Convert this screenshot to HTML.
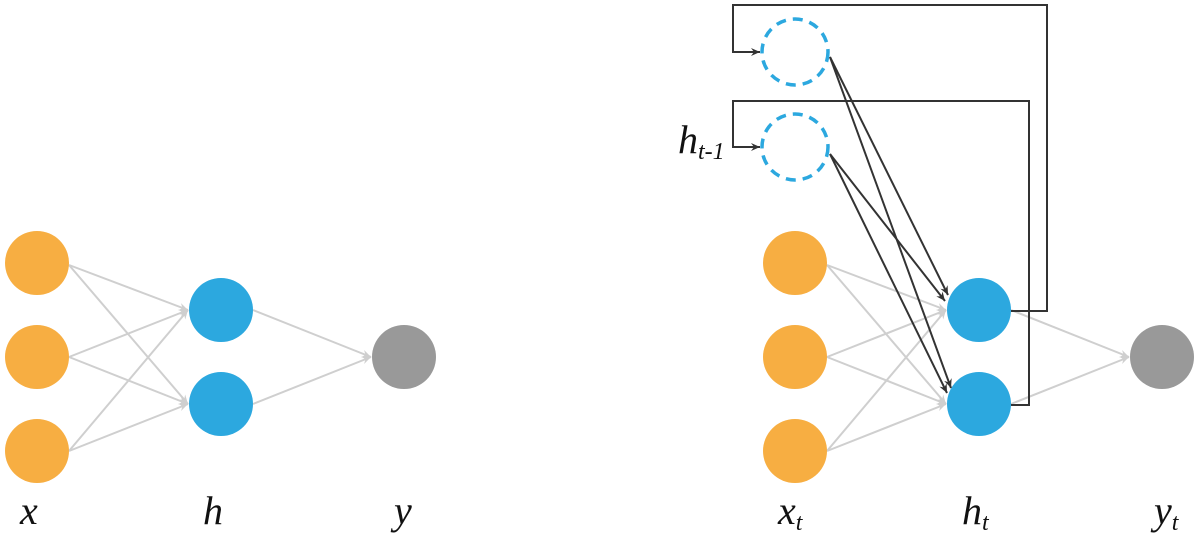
<!DOCTYPE html>
<html><head><style>body{margin:0;background:#fff}svg{display:block}.t{font-family:"Liberation Serif","DejaVu Serif",serif;font-style:italic;font-size:40px;fill:#111}</style></head><body>
<svg width="1200" height="550" viewBox="0 0 1200 550" xmlns="http://www.w3.org/2000/svg">
<defs>
<marker id="g" markerWidth="10" markerHeight="10" refX="9" refY="5" orient="auto" markerUnits="userSpaceOnUse"><path d="M0,1 L9,5 L0,9 L3,5 Z" fill="#cfcfcf"/></marker>
<marker id="d" markerWidth="10" markerHeight="10" refX="9" refY="5" orient="auto" markerUnits="userSpaceOnUse"><path d="M0,1 L9,5 L0,9 L3,5 Z" fill="#333"/></marker>
</defs>
<g stroke="#cfcfcf" stroke-width="2" fill="none" marker-end="url(#g)">
<line x1="69" y1="265" x2="188" y2="310"/><line x1="69" y1="265" x2="188" y2="404"/>
<line x1="69" y1="357" x2="188" y2="310"/><line x1="69" y1="357" x2="188" y2="404"/>
<line x1="69" y1="451" x2="188" y2="310"/><line x1="69" y1="451" x2="188" y2="404"/>
<line x1="253" y1="310" x2="371" y2="357"/><line x1="253" y1="404" x2="371" y2="357"/>
<line x1="827" y1="265" x2="946" y2="310"/><line x1="827" y1="265" x2="946" y2="404"/>
<line x1="827" y1="357" x2="946" y2="310"/><line x1="827" y1="357" x2="946" y2="404"/>
<line x1="827" y1="451" x2="946" y2="310"/><line x1="827" y1="451" x2="946" y2="404"/>
<line x1="1011" y1="310" x2="1129" y2="357"/><line x1="1011" y1="404" x2="1129" y2="357"/>
</g>
<g fill="#f7ae42"><circle cx="37" cy="263" r="32"/><circle cx="37" cy="357" r="32"/><circle cx="37" cy="451" r="32"/>
<circle cx="795" cy="263" r="32"/><circle cx="795" cy="357" r="32"/><circle cx="795" cy="451" r="32"/></g>
<g fill="#2ca8df"><circle cx="221" cy="310" r="32"/><circle cx="221" cy="404" r="32"/><circle cx="979" cy="310" r="32"/><circle cx="979" cy="404" r="32"/></g>
<g fill="#999"><circle cx="404" cy="357" r="32"/><circle cx="1162" cy="357" r="32"/></g>
<g fill="none" stroke="#2ca8df" stroke-width="3.5" stroke-dasharray="10,7"><circle cx="795" cy="52" r="33"/><circle cx="795" cy="147" r="33"/></g>
<g stroke="#333" stroke-width="2" fill="none">
<polyline points="1011,311 1047,311 1047,5 733,5 733,52 760,52" marker-end="url(#d)"/>
<polyline points="1011,405 1029,405 1029,101 733,101 733,147 760,147" marker-end="url(#d)"/>
<line x1="830" y1="57" x2="948" y2="295" marker-end="url(#d)"/>
<line x1="830" y1="57" x2="951" y2="388" marker-end="url(#d)"/>
<line x1="830" y1="154" x2="945" y2="301" marker-end="url(#d)"/>
<line x1="830" y1="154" x2="947" y2="393" marker-end="url(#d)"/>
</g>
<text class="t" x="20" y="524">x</text><text class="t" x="203" y="524">h</text><text class="t" x="394" y="524">y</text>
<text class="t" x="778" y="524">x<tspan style="font-size:24px" dy="6">t</tspan></text>
<text class="t" x="962" y="524">h<tspan style="font-size:24px" dy="6">t</tspan></text>
<text class="t" x="1154" y="524">y<tspan style="font-size:24px" dy="6">t</tspan></text>
<text class="t" x="678" y="153">h<tspan style="font-size:24px" dy="6">t-1</tspan></text>
</svg>
</body></html>
